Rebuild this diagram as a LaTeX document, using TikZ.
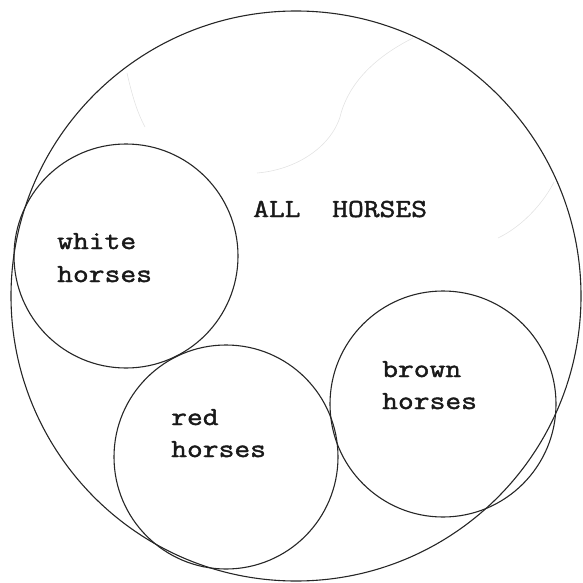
\documentclass[tikz,border=0pt]{standalone}
\usepackage{fontspec}
\newfontfamily\typewriter{Latin Modern Mono}[FakeStretch=1.18, UprightFeatures={FakeBold=1.6}]
\begin{document}
\begin{tikzpicture}[x=1pt,y=-1pt,
  ring/.style={draw=black!85, line width=1.1pt, circle, inner sep=0pt},
  lbl/.style={font=\typewriter\fontsize{26}{32}\selectfont, anchor=base west, inner sep=0pt, text=black!90},
  ghost/.style={draw=black!11, line width=0.6pt}]
\useasboundingbox (0,0) rectangle (583,583);
% faint show-through lines
\draw[ghost] (413,38) .. controls (365,62) and (346,92) .. (340,117) .. controls (330,148) and (295,170) .. (257,173);
\draw[ghost] (127,73) .. controls (132,95) and (137,112) .. (145,127);
\draw[ghost] (554,182) .. controls (545,200) and (525,225) .. (498,238);
% circles
\node[ring, minimum size=570pt] (all) at (296,296) {};
\node[ring, minimum size=224pt] (white) at (126,256) {};
\node[ring, minimum size=224pt] (red) at (226,457) {};
\node[ring, minimum size=226pt] (brown) at (443,404) {};
% labels
\node[lbl] (allt) at (253,217) {ALL\ \ HORSES};
\node[lbl] (w1) at (57,249) {white};
\node[lbl] (w2) at (57,282) {horses};
\node[lbl] (r1) at (171,425) {red};
\node[lbl] (r2) at (171,457) {horses};
\node[lbl] (b1) at (382,377) {brown};
\node[lbl] (b2) at (382,409) {horses};
\end{tikzpicture}
\end{document}
